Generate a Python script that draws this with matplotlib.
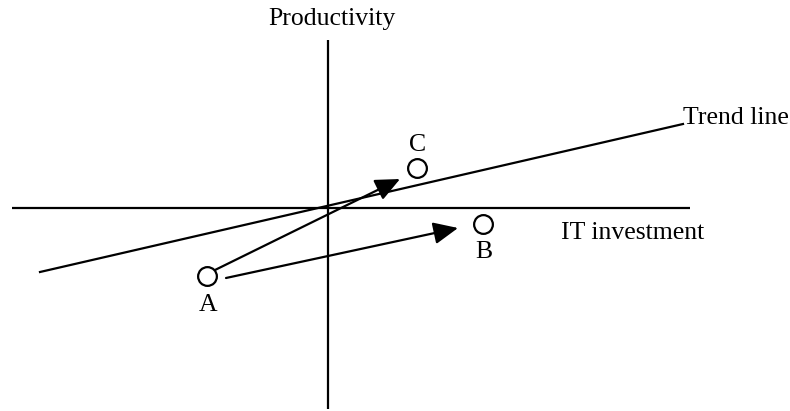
import matplotlib
matplotlib.use("Agg")
import matplotlib.pyplot as plt

# Conceptual diagram in pixel-like coordinates (y grows downward)
point_labels = ["A", "B", "C"]
point_x = [207, 483, 417]
point_y = [276, 224, 168]
label_x = [208, 484, 418]
label_y = [305, 252, 145]

trend_x = [40, 683]
trend_y = [272, 124]

h_axis_x = [12, 690]
h_axis_y = [208, 208]
v_axis_x = [328, 328]
v_axis_y = [40, 409]

arrow_starts = [(215, 270), (226, 278)]
arrow_ends = [(400, 179), (458, 228)]

plt.rcParams['font.family'] = ['Liberation Serif', 'DejaVu Serif']

fig = plt.figure(figsize=(7.9, 4.11), dpi=100)
ax = fig.add_axes([0, 0, 1, 1])
ax.set_xlim(0, 790)
ax.set_ylim(411, 0)
ax.axis('off')

lw = 1.6
fs = 18.5
ax.plot(h_axis_x, h_axis_y, color='black', lw=lw, solid_capstyle='butt')
ax.plot(v_axis_x, v_axis_y, color='black', lw=lw, solid_capstyle='butt')
ax.plot(trend_x, trend_y, color='black', lw=lw)

for (sx, sy), (ex, ey) in zip(arrow_starts, arrow_ends):
    ax.annotate('', xy=(ex, ey), xytext=(sx, sy),
                arrowprops=dict(arrowstyle='-|>,head_length=1.0,head_width=0.45',
                                mutation_scale=15, color='black', lw=lw,
                                shrinkA=0, shrinkB=0))

ax.plot(point_x, point_y, 'o', markersize=13.5, markerfacecolor='white',
        markeredgecolor='black', markeredgewidth=1.6, zorder=5)

for lab, lx, ly in zip(point_labels, label_x, label_y):
    ax.text(lx, ly, lab, ha='center', va='center', fontsize=fs)

ax.text(332, 19, 'Productivity', ha='center', va='center', fontsize=fs)
ax.text(683, 118, 'Trend line', ha='left', va='center', fontsize=fs)
ax.text(633, 233, 'IT investment', ha='center', va='center', fontsize=fs)

fig.savefig('out.png', dpi=100)
